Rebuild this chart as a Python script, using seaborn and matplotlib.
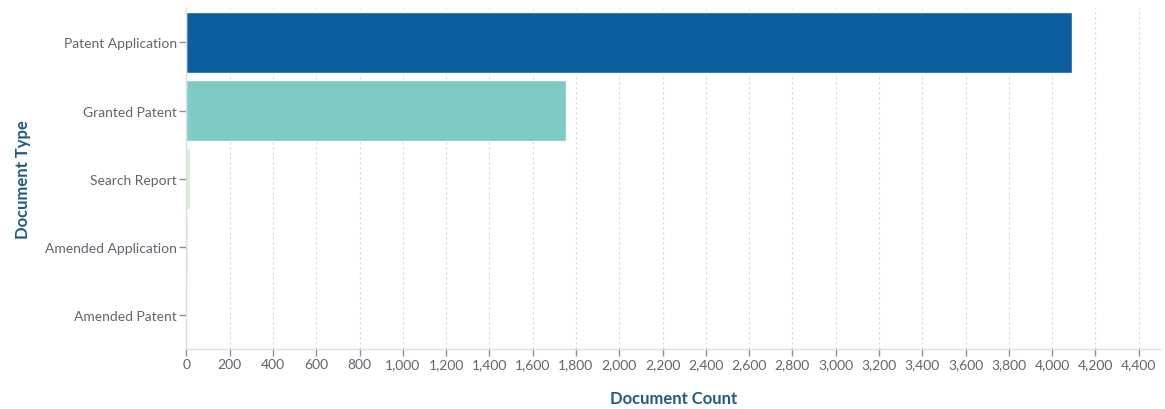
import matplotlib
matplotlib.use("Agg")
import matplotlib.pyplot as plt
import pandas as pd
import seaborn as sns

doc_types = ["Patent Application", "Granted Patent", "Search Report",
             "Amended Application", "Amended Patent"]
doc_counts = [4090, 1755, 18, 6, 1]
bar_colors = ["#0b5fa0", "#7ecac4", "#d3efcf", "#dcf2d8", "#eef8ea"]

df = pd.DataFrame({"type": doc_types, "count": doc_counts})

sns.set_style("white")
plt.rcParams["font.family"] = ["Lato", "DejaVu Sans"]

fig, ax = plt.subplots(figsize=(11.65, 4.1), dpi=100)
fig.subplots_adjust(left=0.16, right=0.996, top=0.977, bottom=0.147)

sns.barplot(data=df, y="type", x="count", hue="type", palette=bar_colors,
            saturation=1, legend=False, width=0.9, ax=ax, zorder=2)

ax.set_xlim(0, 4500)
ax.set_xticks(range(0, 4401, 200))
ax.set_xticklabels([f"{v:,}" for v in range(0, 4401, 200)])
ax.grid(axis="x", color="#d5dde8", linestyle=(0, (2, 2)), linewidth=0.9, zorder=0)
ax.set_axisbelow(True)

for s in ["top", "right"]:
    ax.spines[s].set_visible(False)
for s in ["left", "bottom"]:
    ax.spines[s].set_color("#d9dee6")
    ax.spines[s].set_linewidth(1)

ax.tick_params(axis="both", left=True, bottom=True, length=5, width=1,
               color="#8a8f96", labelcolor="#5f6670", labelsize=10, pad=2)
ax.set_xlabel("Document Count", fontsize=12, fontweight="bold",
              color="#1d5c86", labelpad=14)
ax.set_ylabel("Document Type", fontsize=12, fontweight="bold",
              color="#1d5c86", labelpad=10)

plt.savefig("out.png", dpi=100)
plt.close()
